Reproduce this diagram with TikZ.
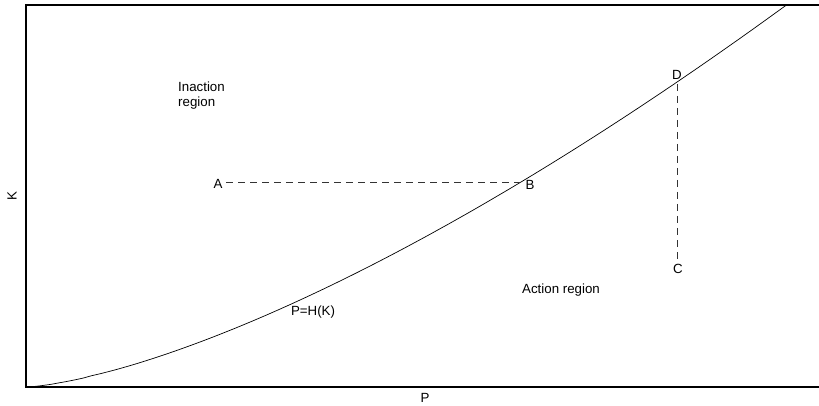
\documentclass[tikz,border=0pt]{standalone}
\usepackage{fontspec}
\setmainfont{Liberation Sans}
\begin{document}
\begin{tikzpicture}[x=1pt,y=-1pt,
  lbl/.style={inner sep=0pt,font=\fontsize{13.3}{15}\selectfont},
  dsh/.style={dash pattern=on 7pt off 5pt,line width=0.7pt,black!80},
  axisline/.style={line width=1.2pt}]
\useasboundingbox (0,0) rectangle (819,406);
\draw[axisline] (822,5) -- (26,5) -- (26,387) -- (822,387);
\begin{scope}
\clip (26,5) rectangle (822,387);
\draw[line width=0.7pt] plot[domain=0.001:770,samples=120,smooth] (26+\x,{387-205*pow(\x/495,1.45)});
\end{scope}
\coordinate (a) at (226,182);
\coordinate (b) at (521,182);
\coordinate (d) at (677,84);
\coordinate (c) at (677,262);
\draw[dsh] (a) -- (b);
\draw[dsh] (d) -- (c);
\node[lbl] (la) at (218,184) {A};
\node[lbl] (lb) at (530,185) {B};
\node[lbl] (ld) at (677,75) {D};
\node[lbl] (lc) at (678,269) {C};
\node[lbl,align=left,anchor=north west] (inact) at (178,82) {Inaction\\region};
\node[lbl] (act) at (561,290) {Action region};
\node[lbl] (h) at (313,312) {P=H(K)};
\node[lbl] (px) at (425,398) {P};
\node[lbl,rotate=90] (ky) at (12,196) {K};
\end{tikzpicture}
\end{document}
